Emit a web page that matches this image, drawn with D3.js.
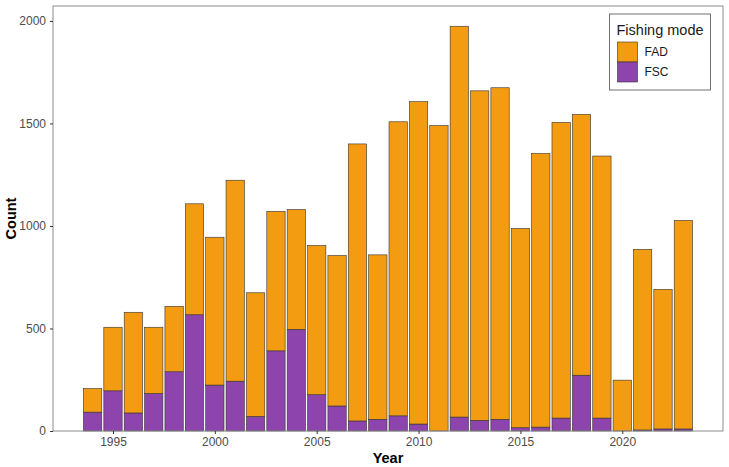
<!DOCTYPE html>
<html>
<head>
<meta charset="utf-8">
<script src="https://cdn.jsdelivr.net/npm/d3@7"></script>
<style>
  body { margin: 0; background: #fff; }
  text { font-family: "Liberation Sans", Arial, sans-serif; }
</style>
</head>
<body>
<div id="chart"></div>
<script>
const years = [1994, 1995, 1996, 1997, 1998, 1999, 2000, 2001, 2002, 2003,
    2004, 2005, 2006, 2007, 2008, 2009, 2010, 2011, 2012, 2013,
    2014, 2015, 2016, 2017, 2018, 2019, 2020, 2021, 2022, 2023];
const fsc = [92, 196, 88, 183, 289, 567, 224, 243, 71, 391,
    496, 177, 122, 49, 57, 74, 34, 0, 68, 52,
    57, 16, 19, 63, 272, 63, 0, 5, 10, 10];
const total = [207, 506, 579, 506, 608, 1108, 945, 1223, 674, 1071,
    1080, 905, 856, 1400, 859, 1508, 1606, 1490, 1974, 1659,
    1674, 988, 1353, 1505, 1544, 1341, 248, 886, 691, 1027];
const modes = ["FAD", "FSC"];
const xTicks = [1995, 2000, 2005, 2010, 2015, 2020];
const yTicks = [0, 500, 1000, 1500, 2000];

const colors = {FAD: "#F39C12", FSC: "#8E44AD"};
const W = 729, H = 467;
const margin = {top: 6, right: 6, bottom: 36, left: 53};
const width = W - margin.left - margin.right;
const height = H - margin.top - margin.bottom;

const rows = years.map((y, i) => ({year: y, FSC: fsc[i], FAD: total[i] - fsc[i]}));
// FSC at the bottom, FAD stacked on top
const stacked = d3.stack().keys(["FSC", "FAD"])(rows);

const svg = d3.select("#chart").append("svg")
    .attr("width", W).attr("height", H)
    .append("g")
    .attr("transform", "translate(" + margin.left + "," + margin.top + ")");

const x = d3.scaleLinear()
    .domain([years[0] - 0.45 - 1.495, years[years.length - 1] + 0.45 + 1.495])
    .range([0, width]);
const y = d3.scaleLinear()
    .domain([0, d3.max(total) * 1.05])
    .range([height, 0]);
const bw = x(1.9) - x(1);

stacked.forEach(layer => {
    svg.append("g")
        .selectAll("rect")
        .data(layer)
        .join("rect")
        .attr("x", d => x(d.data.year) - bw / 2)
        .attr("width", bw)
        .attr("y", d => y(d[1]))
        .attr("height", d => y(d[0]) - y(d[1]))
        .attr("fill", colors[layer.key])
        .attr("stroke", "#333")
        .attr("stroke-width", 0.6);
});

// panel border
svg.append("rect")
    .attr("width", width).attr("height", height)
    .attr("fill", "none").attr("stroke", "#8c8c8c").attr("stroke-width", 1);

// X as
const xAxis = svg.append("g")
    .attr("transform", "translate(0," + height + ")")
    .call(d3.axisBottom(x).tickValues(xTicks).tickFormat(d3.format("d")).tickSize(3).tickPadding(3));
// Y as
const yAxis = svg.append("g")
    .call(d3.axisLeft(y).tickValues(yTicks).tickFormat(d3.format("d")).tickSize(3).tickPadding(4));

[xAxis, yAxis].forEach(a => {
    a.select(".domain").remove();
    a.selectAll("line").attr("stroke", "#333");
    a.selectAll("text").attr("fill", "#4d4d4d").style("font-size", "12px")
        .style("font-family", "'Liberation Sans', Arial, sans-serif");
});

svg.append("text")
    .attr("x", width / 2).attr("y", height + 32)
    .attr("text-anchor", "middle")
    .style("font-size", "14.5px").style("font-weight", "bold")
    .text("Year");
svg.append("text")
    .attr("transform", "translate(" + (-37) + "," + (height / 2) + ") rotate(-90)")
    .attr("text-anchor", "middle")
    .style("font-size", "14.5px").style("font-weight", "bold")
    .text("Count");

// Legend
const lg = svg.append("g").attr("transform", "translate(" + (609.5 - margin.left) + "," + (14 - margin.top) + ")");
lg.append("rect").attr("width", 101).attr("height", 76)
    .attr("fill", "#fff").attr("stroke", "#4d4d4d").attr("stroke-width", 0.8);
lg.append("text").attr("x", 7).attr("y", 21)
    .style("font-size", "14.5px").attr("fill", "#1a1a1a").text("Fishing mode");
modes.forEach((m, i) => {
    lg.append("rect")
        .attr("x", 8).attr("y", 28 + i * 20)
        .attr("width", 20).attr("height", 20)
        .attr("fill", colors[m]).attr("stroke", "#333").attr("stroke-width", 0.6);
    lg.append("text")
        .attr("x", 35).attr("y", 38 + i * 20).attr("dy", "0.35em")
        .style("font-size", "12px").attr("fill", "#1a1a1a").text(m);
});
</script>
</body>
</html>
